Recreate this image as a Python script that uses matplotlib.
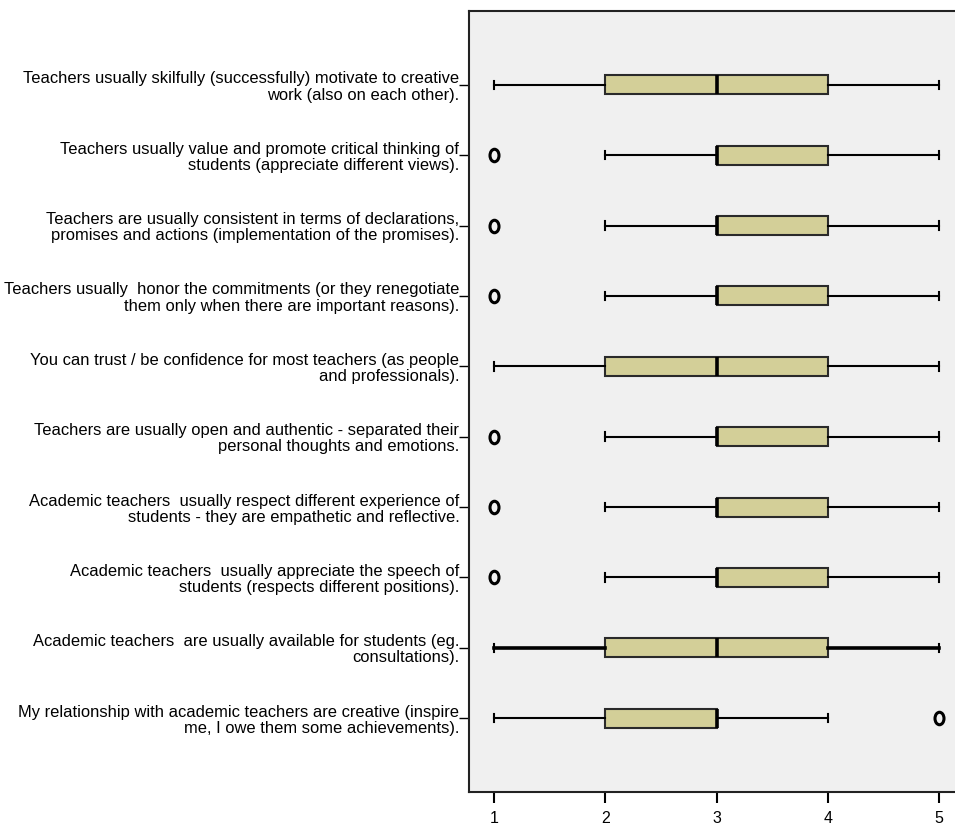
import matplotlib
matplotlib.use("Agg")
import matplotlib.pyplot as plt
from matplotlib import font_manager
from matplotlib.path import Path
import numpy as np

labels = [
    "Teachers usually skilfully (successfully) motivate to creative\nwork (also on each other).",
    "Teachers usually value and promote critical thinking of\nstudents (appreciate different views).",
    "Teachers are usually consistent in terms of declarations,\npromises and actions (implementation of the promises).",
    "Teachers usually  honor the commitments (or they renegotiate\nthem only when there are important reasons).",
    "You can trust / be confidence for most teachers (as people\nand professionals).",
    "Teachers are usually open and authentic - separated their\npersonal thoughts and emotions.",
    "Academic teachers  usually respect different experience of\nstudents - they are empathetic and reflective.",
    "Academic teachers  usually appreciate the speech of\nstudents (respects different positions).",
    "Academic teachers  are usually available for students (eg.\nconsultations).",
    "My relationship with academic teachers are creative (inspire\nme, I owe them some achievements).",
]
whislo = [1, 2, 2, 2, 1, 2, 2, 2, 1, 1]
q1 = [2, 3, 3, 3, 2, 3, 3, 3, 2, 2]
med = [3, 3, 3, 3, 3, 3, 3, 3, 3, 3]
q3 = [4, 4, 4, 4, 4, 4, 4, 4, 4, 3]
whishi = [5, 5, 5, 5, 5, 5, 5, 5, 5, 4]
outliers = [[], [1], [1], [1], [], [1], [1], [1], [], [5]]
xticks = [1, 2, 3, 4, 5]

avail = {f.name for f in font_manager.fontManager.ttflist}
fam = "Liberation Sans Narrow" if "Liberation Sans Narrow" in avail else "Liberation Sans"
plt.rcParams['font.family'] = [fam, 'DejaVu Sans']

fig = plt.figure(figsize=(9.55, 8.27), dpi=100)
ax = fig.add_axes([469/955, 1-792/827, 1-469/955, (792-11)/827])
ax.set_facecolor('#f0f0f0')

# elliptical hollow marker
circ = Path.unit_circle()
ell = Path(circ.vertices * np.array([0.72, 1.0]), circ.codes)

stats = []
for i in range(len(labels)):
    stats.append(dict(whislo=whislo[i], q1=q1[i], med=med[i], q3=q3[i],
                      whishi=whishi[i], fliers=outliers[i], label=labels[i]))
pos = np.arange(1, len(labels) + 1)
bp = ax.bxp(stats, positions=pos, vert=False, widths=0.27, capwidths=0.12,
            patch_artist=True,
            boxprops=dict(facecolor='#d3cf98', edgecolor='#2a2a2a', linewidth=1.5),
            medianprops=dict(color='black', linewidth=2.6),
            whiskerprops=dict(color='black', linewidth=1.5),
            capprops=dict(color='black', linewidth=1.5),
            flierprops=dict(marker=ell, markersize=9, markerfacecolor='none',
                            markeredgecolor='black', markeredgewidth=2.2))
for w in bp['whiskers'][16:18]:
    w.set_linewidth(2.6)

ax.set_ylim(11.05, -0.05)
ax.set_xlim(0.775, 5.144)
ax.set_xticks(xticks)
ax.set_xticklabels([str(t) for t in xticks], fontsize=11.5)
ax.set_yticks(pos)
ax.set_yticklabels(labels, fontsize=11.9, linespacing=1.1)
ax.tick_params(axis='y', length=7, width=1, pad=0, direction='out')
ax.tick_params(axis='x', length=8, width=1.5, pad=6, direction='out')
for s in ['left', 'top', 'bottom']:
    ax.spines[s].set_linewidth(1.5)
    ax.spines[s].set_color('#222222')
ax.spines['right'].set_visible(False)

fig.savefig("out.png", dpi=100)
